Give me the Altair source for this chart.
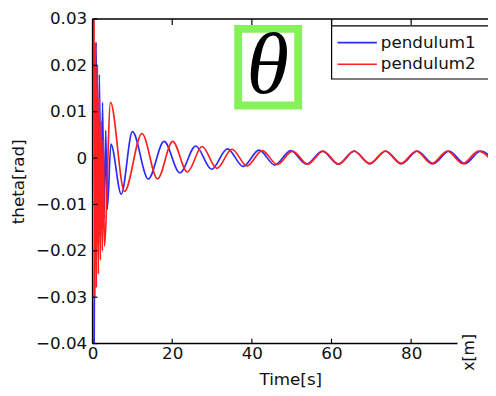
import altair as alt
import pandas as pd

# ---- data ----
blue_t = [0.4, 0.9, 1.3, 1.7, 2.1, 2.5, 2.9, 3.3, 3.7, 4.6, 7.2, 10.0, 13.98, 17.95, 21.93,
          25.9, 29.88, 33.85, 37.83, 41.8, 45.78, 49.75, 53.73, 57.7, 61.68, 65.65, 69.63,
          73.6, 77.58, 81.55, 85.53, 89.5, 93.48, 97.45, 101.4]
blue_v = [-0.040, 0.025, -0.018, 0.018, -0.015, 0.012, -0.013, 0.006, -0.011, 0.003, -0.0078,
          0.0057, -0.0045, 0.0036, -0.0032, 0.0026, -0.0024, 0.0020, -0.0018, 0.0017, -0.0015,
          0.0016, -0.0013, 0.0015, -0.0013, 0.0015, -0.0012, 0.0015, -0.0012, 0.0015, -0.0012,
          0.0015, -0.0012, 0.0015, -0.0012]

red_t = [0.35, 0.55, 0.75, 0.95, 1.2, 1.45, 1.7, 1.95, 2.2, 2.45, 2.7, 2.95, 4.5, 8.0, 12.4,
         16.3, 20.1, 23.8, 27.5, 31.2, 35.0, 38.8, 42.6, 46.4, 50.2, 54.0, 57.9, 61.8, 65.7,
         69.6, 73.5, 77.4, 81.3, 85.2, 89.1, 93.0, 96.9, 100.8]
red_v = [0.030, -0.030, 0.025, -0.028, 0.020, -0.025, 0.013, -0.022, 0.008, -0.020, 0.004,
         -0.019, 0.012, -0.0072, 0.0053, -0.0045, 0.0036, -0.0030, 0.0025, -0.0022, 0.0019,
         -0.0017, 0.0016, -0.0014, 0.0015, -0.0013, 0.0015, -0.0013, 0.0015, -0.0012, 0.0015,
         -0.0012, 0.0015, -0.0012, 0.0015, -0.0012, 0.0015, -0.0012]

x_ticks = [0, 20, 40, 60, 80]
y_ticks = [-0.04, -0.03, -0.02, -0.01, 0.0, 0.01, 0.02, 0.03]
series_names = ["pendulum1", "pendulum2"]
series_colors = ["#2b2bff", "#ff1f1f"]

W, H = 402, 330
FONT = "DejaVu Sans"

df = pd.concat([
    pd.DataFrame({"t": blue_t, "v": blue_v, "s": series_names[0], "o": 0}),
    pd.DataFrame({"t": red_t, "v": red_v, "s": series_names[1], "o": 1}),
])

xs = alt.Scale(domain=[0, 99.3], nice=False, zero=False)
ys = alt.Scale(domain=[-0.04, 0.03], nice=False, zero=False)
x_axis = alt.Axis(
    values=x_ticks, domain=False, ticks=False, grid=False, labelFlush=False,
    labelFont=FONT, labelFontSize=17, labelColor="#111", labelPadding=2,
    title="Time[s]", titleFont=FONT, titleFontSize=17, titleFontWeight="normal",
    titleColor="#111", titleY=37, titleBaseline="middle")
y_axis = alt.Axis(
    values=y_ticks, domain=False, ticks=False, grid=False, labelFlush=False,
    labelExpr="datum.value == 0 ? '0' : format(datum.value, '.2f')",
    labelFont=FONT, labelFontSize=17, labelColor="#111", labelPadding=6,
    title="theta[rad]", titleFont=FONT, titleFontSize=17, titleFontWeight="normal",
    titleColor="#111", titleX=-75, titleY=H / 2, titleAngle=-90,
    titleAlign="center", titleBaseline="middle")

color_enc = alt.Color("s:N", scale=alt.Scale(domain=series_names, range=series_colors), legend=None)

lines = alt.Chart(df).mark_line(strokeWidth=1.7, clip=True, interpolate="monotone").encode(
    x=alt.X("t:Q", scale=xs, axis=x_axis),
    y=alt.Y("v:Q", scale=ys, axis=y_axis),
    color=color_enc,
    detail="s:N",
    order="o:Q",
)

one = pd.DataFrame({"a": [0]})
frame_left = alt.Chart(one).mark_rule(color="black", strokeWidth=1.5).encode(
    x=alt.value(0), y=alt.value(0), y2=alt.value(H))
frame_top = alt.Chart(one).mark_rule(color="black", strokeWidth=1.5).encode(
    x=alt.value(0), x2=alt.value(W + 10), y=alt.value(0))
frame_bottom = alt.Chart(one).mark_rule(color="black", strokeWidth=1.5).encode(
    x=alt.value(0), x2=alt.value(371), y=alt.value(H))

xt = pd.DataFrame({"t": x_ticks})
yt = pd.DataFrame({"v": y_ticks})
ticks_bottom = alt.Chart(xt).mark_rule(color="black", strokeWidth=1.2).encode(
    x=alt.X("t:Q", scale=xs, axis=x_axis), y=alt.value(H), y2=alt.value(H - 5))
ticks_top = alt.Chart(xt).mark_rule(color="black", strokeWidth=1.2).encode(
    x=alt.X("t:Q", scale=xs, axis=x_axis), y=alt.value(0), y2=alt.value(6))
ticks_left = alt.Chart(yt).mark_rule(color="black", strokeWidth=1.2).encode(
    y=alt.Y("v:Q", scale=ys, axis=y_axis), x=alt.value(0), x2=alt.value(5))

# theta badge
theta_box = alt.Chart(one).mark_rect(fill="white", stroke="#86f25a", strokeWidth=8).encode(
    x=alt.value(148), x2=alt.value(209), y=alt.value(10), y2=alt.value(88))
theta_txt = alt.Chart(pd.DataFrame({"lab": ["θ"]})).mark_text(
    font="Liberation Serif", fontStyle="italic", fontSize=88, color="black",
    align="center", baseline="middle").encode(
    x=alt.value(178), y=alt.value(49), text="lab:N")

# legend
leg_box = alt.Chart(one).mark_rect(fill="white", stroke="black", strokeWidth=1.2).encode(
    x=alt.value(243), x2=alt.value(430), y=alt.value(7), y2=alt.value(61))
leg_stub = alt.Chart(one).mark_rule(color="black", strokeWidth=1.2).encode(
    x=alt.value(243), y=alt.value(0), y2=alt.value(7))
leg_layers = []
for name, col, yy in zip(series_names, series_colors, [24, 46]):
    leg_layers.append(alt.Chart(one).mark_rule(strokeWidth=1.6, color=col).encode(
        x=alt.value(249), x2=alt.value(289), y=alt.value(yy)))
    leg_layers.append(alt.Chart(pd.DataFrame({"lab": [name]})).mark_text(
        font=FONT, fontSize=17, color="#111", align="left", baseline="middle").encode(
        x=alt.value(293), y=alt.value(yy), text="lab:N"))

xm = alt.Chart(pd.DataFrame({"lab": ["x[m]"]})).mark_text(
    font=FONT, fontSize=16, color="#111", angle=270, align="center", baseline="middle").encode(
    x=alt.value(383), y=alt.value(339), text="lab:N")

chart = alt.layer(
    lines, frame_left, frame_top, frame_bottom, ticks_bottom, ticks_top, ticks_left,
    theta_box, theta_txt, leg_box, leg_stub, *leg_layers, xm
).properties(
    width=W, height=H,
    autosize=alt.AutoSizeParams(type="none"),
    padding={"left": 86, "top": 8, "right": 0, "bottom": 42},
    background="white",
).configure_view(stroke=None)

chart.save("out.html", embed_options={"renderer": "svg", "actions": False})
